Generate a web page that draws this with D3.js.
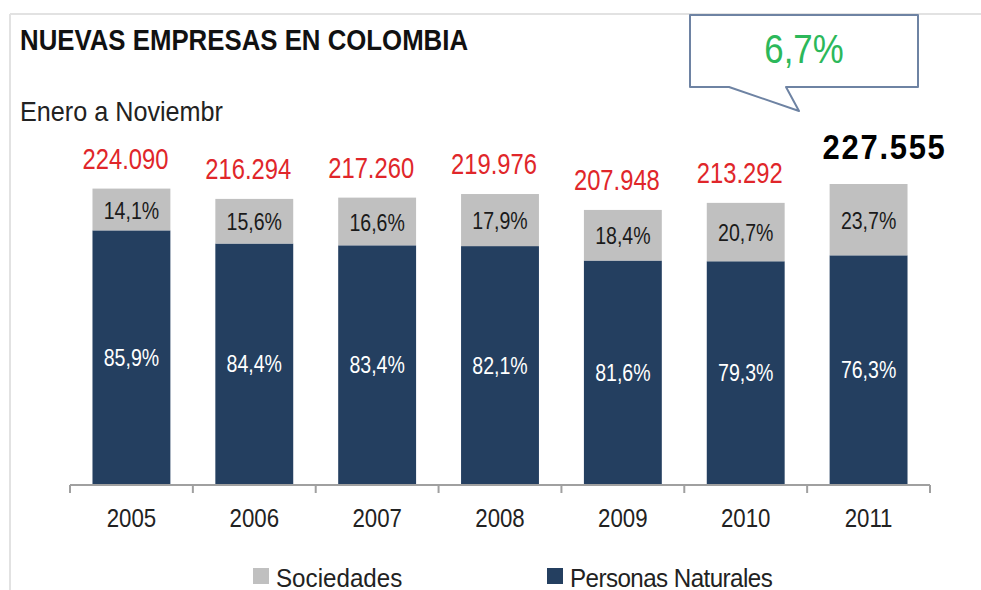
<!DOCTYPE html>
<html>
<head>
<meta charset="utf-8">
<style>
    body { margin: 0; background: white; }
    svg { display: block; font-family: "Liberation Sans", Arial, sans-serif; }
</style>
</head>
<body>
<svg width="981" height="590"></svg>
<script src="https://d3js.org/d3.v7.min.js"></script>
<script>
    // data
    var years = ["2005", "2006", "2007", "2008", "2009", "2010", "2011"];
    var totals = [224090, 216294, 217260, 219976, 207948, 213292, 227555];
    var sociedades = [14.1, 15.6, 16.6, 17.9, 18.4, 20.7, 23.7];
    var personas = [85.9, 84.4, 83.4, 82.1, 81.6, 79.3, 76.3];
    var growth = "6,7%";

    var svg = d3.select("svg");
    var fmt = function(v) { return d3.format(",")(v).replace(/,/g, "."); };
    var pct = function(v) { return v.toFixed(1).replace(".", ",") + "%"; };

    var darkColor = "#243f60",
        greyColor = "#c0c0c0";

    // no narrow font installed, so squeeze text horizontally
    function squeeze(sel, sx) {
        sel.each(function() {
            var t = d3.select(this);
            var tx = +t.attr("x") || 0, ty = +t.attr("y") || 0;
            t.attr("x", 0).attr("y", 0)
             .attr("transform", "translate(" + tx + "," + ty + ") scale(" + sx + ",1)");
        });
    }

    // frame
    svg.append("line").attr("x1", 10).attr("x2", 981).attr("y1", 14).attr("y2", 14)
        .attr("stroke", "#e2e2e2").attr("stroke-width", 2);
    svg.append("line").attr("x1", 10).attr("x2", 10).attr("y1", 14).attr("y2", 590)
        .attr("stroke", "#e2e2e2").attr("stroke-width", 2);

    svg.append("text").attr("x", 20).attr("y", 50)
        .attr("font-size", "30px").attr("font-weight", "bold").attr("fill", "#111")
        .text("NUEVAS EMPRESAS EN COLOMBIA")
        .call(squeeze, 0.86);
    svg.append("text").attr("x", 20).attr("y", 121)
        .attr("font-size", "28px").attr("fill", "#222")
        .text("Enero a Noviembr")
        .call(squeeze, 0.9);

    var x = d3.scaleBand().domain(years).range([70, 930])
        .paddingInner(0.366).paddingOuter(0.183);
    var xTicks = d3.scaleBand().domain(years).range([70, 930]);
    var y = d3.scaleLinear().domain([0, 300000]).range([485, 485 - 300000 / 756]);

    var rows = years.map(function(yr, i) {
        return { year: yr, total: totals[i], soc: sociedades[i], per: personas[i] };
    });
    var last = years.length - 1;

    var bars = svg.append("g").selectAll("g").data(rows).enter().append("g");

    // personas naturales (bottom)
    bars.append("rect")
        .attr("x", function(d) { return x(d.year); })
        .attr("width", x.bandwidth())
        .attr("y", function(d) { return y(d.total * d.per / 100); })
        .attr("height", function(d) { return y(0) - y(d.total * d.per / 100); })
        .attr("fill", darkColor);
    // sociedades (top)
    bars.append("rect")
        .attr("x", function(d) { return x(d.year); })
        .attr("width", x.bandwidth())
        .attr("y", function(d) { return y(d.total); })
        .attr("height", function(d) { return y(d.total * d.per / 100) - y(d.total); })
        .attr("fill", greyColor);

    bars.append("text")
        .attr("x", function(d) { return x(d.year) + x.bandwidth() / 2; })
        .attr("y", function(d) { return (y(d.total * d.per / 100) + y(0)) / 2; })
        .attr("dy", "0.35em").attr("text-anchor", "middle")
        .attr("font-size", "23px").attr("fill", "white")
        .text(function(d) { return pct(d.per); })
        .call(squeeze, 0.85);
    bars.append("text")
        .attr("x", function(d) { return x(d.year) + x.bandwidth() / 2; })
        .attr("y", function(d) { return (y(d.total * d.per / 100) + y(d.total)) / 2; })
        .attr("dy", "0.4em").attr("text-anchor", "middle")
        .attr("font-size", "23px").attr("fill", "#1a1a1a")
        .text(function(d) { return pct(d.soc); })
        .call(squeeze, 0.85);

    // totals
    bars.filter(function(d, i) { return i != last; }).append("text")
        .attr("x", function(d) { return x(d.year) + x.bandwidth() / 2 - 6; })
        .attr("y", function(d) { return y(d.total) - 20; })
        .attr("text-anchor", "middle")
        .attr("font-size", "29px").attr("fill", "#e0262a")
        .text(function(d) { return fmt(d.total); })
        .call(squeeze, 0.82);
    bars.filter(function(d, i) { return i == last; }).append("text")
        .attr("x", function(d) { return x(d.year) + x.bandwidth() / 2 + 16; })
        .attr("y", function(d) { return y(d.total) - 25; })
        .attr("text-anchor", "middle")
        .attr("font-size", "36px").attr("font-weight", "bold")
        .attr("letter-spacing", "2px").attr("fill", "#000")
        .text(function(d) { return fmt(d.total); })
        .call(squeeze, 0.86);

    // x axis
    var axis = svg.append("g").attr("transform", "translate(0,485)");
    axis.append("line").attr("x1", 70).attr("x2", 930)
        .attr("stroke", "#a0a0a0").attr("stroke-width", 2);
    axis.selectAll(".tick").data(years.concat(["end"])).enter().append("line")
        .attr("x1", function(d) { return d == "end" ? 930 : xTicks(d); })
        .attr("x2", function(d) { return d == "end" ? 930 : xTicks(d); })
        .attr("y1", 0).attr("y2", 8)
        .attr("stroke", "#a0a0a0").attr("stroke-width", 2);
    axis.selectAll(".lbl").data(years).enter().append("text")
        .attr("x", function(d) { return x(d) + x.bandwidth() / 2; })
        .attr("y", 42).attr("text-anchor", "middle")
        .attr("font-size", "25px").attr("fill", "#222")
        .text(function(d) { return d; })
        .call(squeeze, 0.89);

    // legend
    var legend = [
        { name: "Sociedades", color: greyColor, x: 253 },
        { name: "Personas Naturales", color: darkColor, x: 547 }
    ];
    var lg = svg.append("g").selectAll("g").data(legend).enter().append("g")
        .attr("transform", function(d) { return "translate(" + d.x + ",568)"; });
    lg.append("rect").attr("width", 16).attr("height", 16)
        .attr("fill", function(d) { return d.color; });
    lg.append("text").attr("x", 23).attr("y", 19)
        .attr("font-size", "26px").attr("fill", "#222")
        .attr("letter-spacing", function(d) { return d.name == "Personas Naturales" ? "-0.6px" : "0px"; })
        .text(function(d) { return d.name; })
        .call(squeeze, 0.93);

    // callout
    svg.append("path")
        .attr("d", "M690,15 H918 V87 H786 L799,111 L729,87 H690 Z")
        .attr("fill", "white").attr("stroke", "#6e83a3").attr("stroke-width", 2)
        .attr("stroke-linejoin", "round");
    svg.append("text").attr("x", 804).attr("y", 63).attr("text-anchor", "middle")
        .attr("font-size", "40px").attr("fill", "#2cb85a")
        .text(growth)
        .call(squeeze, 0.87);
</script>
</body>
</html>
